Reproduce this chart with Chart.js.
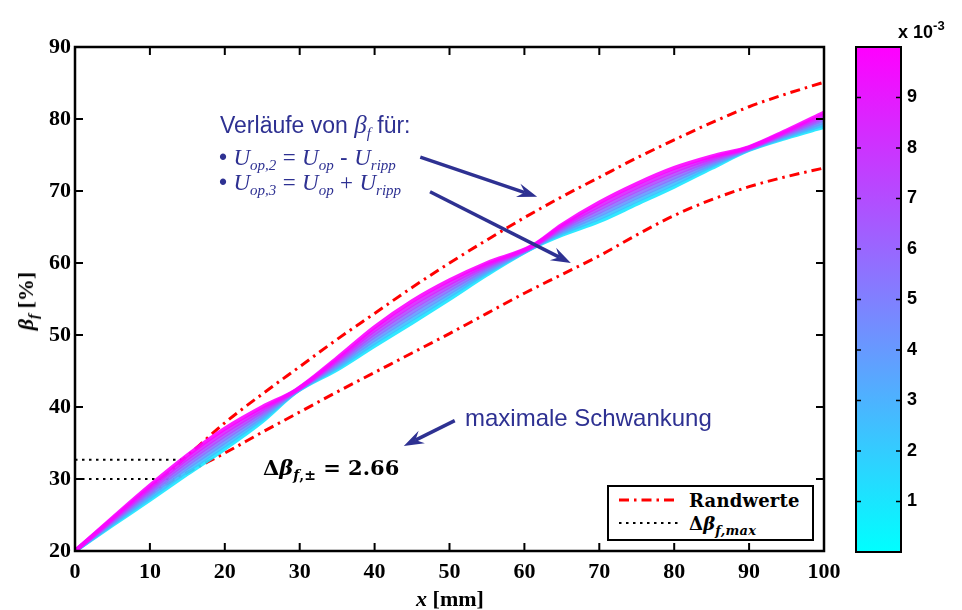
<!DOCTYPE html>
<html>
<head>
<meta charset="utf-8">
<script src="https://cdn.jsdelivr.net/npm/chart.js@4.4.1/dist/chart.umd.min.js"></script>
<style>
  body { margin: 0; background: #fff; }
  #wrap { position: relative; width: 962px; height: 610px; overflow: hidden; }
  canvas { position: absolute; left: 0; top: 0; }
  .note { position: absolute; color: #2e3192; font-family: 'Liberation Sans', Arial, sans-serif; font-size: 23px; line-height: 1; white-space: nowrap; }
  .mi { font-family: 'Liberation Serif', 'Times New Roman', serif; font-style: italic; }
  .up { font-family: 'Liberation Serif', 'Times New Roman', serif; }
  .note sub { font-size: 15px; vertical-align: -5px; line-height: 0; }
  .tex { position: absolute; font-family: 'DejaVu Serif', serif; font-weight: bold; font-size: 21px; line-height: 1; white-space: nowrap; color: #000; }
  .tex sub { font-size: 14px; vertical-align: -5px; line-height: 0; }
  .axtitle { position: absolute; font-family: 'Liberation Serif', 'Times New Roman', serif; font-weight: bold; font-size: 22px; line-height: 1; white-space: nowrap; }
  .axtitle sub { font-size: 15px; vertical-align: -5px; line-height: 0; }
  #legend { position: absolute; left: 607px; top: 485px; width: 203px; height: 52px; border: 2px solid #000; background: #fff; }
  #legend .row { position: absolute; left: 8px; height: 20px; }
  #legend svg { position: absolute; left: 0; top: 0; }
  #legend .tex { font-size: 18px; left: 72px; letter-spacing: 0.2px; }
  #legend .tex sub { font-size: 13px; }
  #cbexp { position: absolute; left: 898px; top: 23px; font-family: 'Liberation Sans', Arial, sans-serif; font-weight: bold; font-size: 18px; line-height: 1; white-space: nowrap; }
  #cbexp sup { font-size: 13px; vertical-align: 8px; line-height: 0; }
</style>
</head>
<body>
<div id="wrap">
  <canvas id="main" width="962" height="610"></canvas>
  <canvas id="cbar" width="962" height="610"></canvas>

  <div class="note" style="left:220px; top:112px;">Verläufe von <span class="mi" style="font-size:25px;">β<sub>f</sub></span> für:</div>
  <div class="note" style="left:219px; top:146px;">• <span class="mi">U<sub>op,2</sub></span> <span class="up">=</span> <span class="mi">U<sub>op</sub></span> - <span class="mi">U<sub>ripp</sub></span></div>
  <div class="note" style="left:219px; top:171px;">• <span class="mi">U<sub>op,3</sub></span> <span class="up">=</span> <span class="mi">U<sub>op</sub></span> <span class="up">+</span> <span class="mi">U<sub>ripp</sub></span></div>
  <div class="note" style="left:465px; top:406px; font-size:24px;">maximale Schwankung</div>

  <div class="tex" style="left:263px; top:457px;">Δ<i>β</i><sub><i>f</i>,±</sub> = 2.66</div>

  <div id="legend">
    <div class="row" style="top:4px;">
      <svg width="62" height="20"><line x1="2" y1="9" x2="62" y2="9" stroke="#ff0000" stroke-width="3" stroke-dasharray="10 5 2.5 5"/></svg>
      <div class="tex" style="top:1px;">Randwerte</div>
    </div>
    <div class="row" style="top:27px;">
      <svg width="62" height="20"><line x1="2" y1="9" x2="62" y2="9" stroke="#000" stroke-width="2" stroke-dasharray="2.5 4.5"/></svg>
      <div class="tex" style="top:1px;">Δ<i>β</i><sub><i>f,max</i></sub></div>
    </div>
  </div>

  <div class="axtitle" style="left:26px; top:301px; transform:translate(-50%,-50%) rotate(-90deg);"><i>β</i><sub><i>f</i></sub> [%]</div>
  <div class="axtitle" style="left:450px; top:599px; transform:translate(-50%,-50%);"><i>x</i> [mm]</div>
  <div id="cbexp">x 10<sup>-3</sup></div>
</div>

<script>
// Axis ticks
const xTicks = [0, 10, 20, 30, 40, 50, 60, 70, 80, 90, 100];
const yTicks = [20, 30, 40, 50, 60, 70, 80, 90];
const cbTicks = [0.001, 0.002, 0.003, 0.004, 0.005, 0.006, 0.007, 0.008, 0.009];
const cbMin = 0, cbMax = 0.01;

// x positions of the simulated curves [mm]
const xBand = [0, 5, 10, 15, 20, 25, 29.5, 35, 40, 45, 50, 55, 61, 65, 70, 75, 80, 85, 90, 95, 100];

// beta_f [%] per ripple level, lowest level first
const beta1 = [20, 23.6, 27.1, 30.7, 34.2, 38.0, 42.05, 45.2, 48.5, 51.7, 55.0, 58.4, 62.05, 63.9, 65.8, 68.2, 70.6, 73.2, 75.7, 77.4, 78.9];
const beta2 = [20, 23.77, 27.43, 31.13, 34.67, 38.33, 42.1, 45.47, 48.93, 52.2, 55.43, 58.67, 62.1, 64.13, 66.23, 68.67, 71.03, 73.47, 75.77, 77.57, 79.23];
const beta3 = [20, 23.93, 27.77, 31.57, 35.13, 38.67, 42.15, 45.73, 49.37, 52.7, 55.87, 58.93, 62.15, 64.37, 66.67, 69.13, 71.47, 73.73, 75.83, 77.73, 79.57];
const beta4 = [20, 24.1, 28.1, 32.0, 35.6, 39.0, 42.2, 46.0, 49.8, 53.2, 56.3, 59.2, 62.2, 64.6, 67.1, 69.6, 71.9, 74.0, 75.9, 77.9, 79.9];
const beta5 = [20, 24.27, 28.43, 32.43, 36.07, 39.33, 42.25, 46.27, 50.23, 53.7, 56.73, 59.47, 62.25, 64.83, 67.53, 70.07, 72.33, 74.27, 75.97, 78.07, 80.23];
const beta6 = [20, 24.43, 28.77, 32.87, 36.53, 39.67, 42.3, 46.53, 50.67, 54.2, 57.17, 59.73, 62.3, 65.07, 67.97, 70.53, 72.77, 74.53, 76.03, 78.23, 80.57];
const beta7 = [20, 24.6, 29.1, 33.3, 37.0, 40.0, 42.35, 46.8, 51.1, 54.7, 57.6, 60.0, 62.35, 65.3, 68.4, 71.0, 73.2, 74.8, 76.1, 78.4, 80.9];
const bandCurves = [beta1, beta2, beta3, beta4, beta5, beta6, beta7];
const bandLevels = [0.001, 0.0025, 0.004, 0.0055, 0.007, 0.0085, 0.0099];

// Randwerte (upper / lower bound)
const xRand = [0, 5, 10, 15, 20, 25, 30, 35, 40, 45, 50, 55, 60, 65, 70, 75, 80, 85, 90, 95, 100];
const randOben = [20, 24.3, 28.6, 33.2, 37.8, 41.8, 45.6, 49.4, 53.0, 56.6, 60.0, 63.2, 66.3, 69.2, 71.9, 74.6, 77.1, 79.5, 81.7, 83.5, 85.1];
const randUnten = [20, 23.9, 27.8, 30.9, 33.6, 36.5, 39.3, 42.1, 44.8, 47.5, 50.2, 53.0, 55.8, 58.4, 61.0, 63.9, 66.6, 68.8, 70.6, 72.0, 73.2];

// Delta beta_f,max markers
const deltaOben = { x: [0, 14.4], y: [32.66, 32.66] };
const deltaUnten = { x: [0, 13.2], y: [30, 30] };

// annotation arrows in data units
const arrows = [
  { from: [46.1, 74.7], to: [61.7, 69.2] },
  { from: [47.4, 69.9], to: [66.2, 60.0] },
  { from: [50.7, 38.1], to: [43.9, 34.6] }
];

const navy = '#2e3192';
const tickFont = { family: "'Liberation Serif', 'Times New Roman', serif", size: 22, weight: 'bold' };

// MATLAB "cool" colormap
function coolColor(v, alpha) {
  const t = (v - cbMin) / (cbMax - cbMin);
  return `rgba(${Math.round(255 * t)}, ${Math.round(255 * (1 - t))}, 255, ${alpha})`;
}

function pts(xs, ys) {
  return xs.map((x, i) => ({ x: x, y: ys[i] }));
}

const datasets = [];
bandCurves.forEach((ys, k) => {
  datasets.push({
    data: pts(xBand, ys),
    borderColor: coolColor(bandLevels[k], 0.9),
    borderWidth: 4,
    pointRadius: 0,
    cubicInterpolationMode: 'monotone',
    order: 17 - k
  });
});
[randOben, randUnten].forEach(ys => {
  datasets.push({
    data: pts(xRand, ys),
    borderColor: '#ff0000',
    borderWidth: 3,
    borderDash: [10, 5, 2.5, 5],
    pointRadius: 0,
    cubicInterpolationMode: 'monotone',
    order: 20
  });
});
[deltaOben, deltaUnten].forEach(d => {
  datasets.push({
    data: pts(d.x, d.y),
    borderColor: '#000',
    borderWidth: 2,
    borderDash: [2.5, 4.5],
    pointRadius: 0,
    order: 20
  });
});

function drawArrow(ctx, x1, y1, x2, y2) {
  const ang = Math.atan2(y2 - y1, x2 - x1);
  const len = 20, half = 7, back = 13;
  ctx.beginPath();
  ctx.moveTo(x1, y1);
  ctx.lineTo(x2 - Math.cos(ang) * back, y2 - Math.sin(ang) * back);
  ctx.stroke();
  ctx.save();
  ctx.translate(x2, y2);
  ctx.rotate(ang);
  ctx.beginPath();
  ctx.moveTo(0, 0);
  ctx.lineTo(-len, -half);
  ctx.lineTo(-back, 0);
  ctx.lineTo(-len, half);
  ctx.closePath();
  ctx.fill();
  ctx.restore();
}

// box with inward ticks on all sides, plus the arrows
const framePlugin = {
  id: 'frame',
  afterDatasetsDraw(chart) {
    const { ctx, chartArea: a, scales: { x, y } } = chart;
    const tl = 8;
    ctx.save();
    ctx.strokeStyle = '#000';
    ctx.lineWidth = 2;
    ctx.beginPath();
    xTicks.forEach(v => {
      const px = x.getPixelForValue(v);
      ctx.moveTo(px, a.bottom); ctx.lineTo(px, a.bottom - tl);
      ctx.moveTo(px, a.top); ctx.lineTo(px, a.top + tl);
    });
    yTicks.forEach(v => {
      const py = y.getPixelForValue(v);
      ctx.moveTo(a.left, py); ctx.lineTo(a.left + tl, py);
      ctx.moveTo(a.right, py); ctx.lineTo(a.right - tl, py);
    });
    ctx.stroke();
    ctx.lineWidth = 2.5;
    ctx.strokeRect(a.left, a.top, a.width, a.height);

    ctx.strokeStyle = navy;
    ctx.fillStyle = navy;
    ctx.lineWidth = 3.5;
    arrows.forEach(ar => {
      drawArrow(ctx,
        x.getPixelForValue(ar.from[0]), y.getPixelForValue(ar.from[1]),
        x.getPixelForValue(ar.to[0]), y.getPixelForValue(ar.to[1]));
    });
    ctx.restore();
  }
};

new Chart(document.getElementById('main'), {
  type: 'line',
  data: { datasets: datasets },
  options: {
    responsive: false,
    animation: false,
    devicePixelRatio: 1,
    layout: { padding: { left: 0, right: 138, top: 47, bottom: 0 } },
    plugins: { legend: { display: false }, tooltip: { enabled: false } },
    scales: {
      x: {
        type: 'linear', min: 0, max: 100,
        afterBuildTicks: s => { s.ticks = xTicks.map(v => ({ value: v })); },
        afterFit: s => { s.height = 59; },
        grid: { display: false, drawTicks: false },
        border: { display: false },
        ticks: { color: '#000', font: tickFont, padding: 8, maxRotation: 0, autoSkip: false }
      },
      y: {
        type: 'linear', min: 20, max: 90,
        afterBuildTicks: s => { s.ticks = yTicks.map(v => ({ value: v })); },
        afterFit: s => { s.width = 75; },
        grid: { display: false, drawTicks: false },
        border: { display: false },
        ticks: { color: '#000', font: tickFont, padding: 4 }
      }
    }
  },
  plugins: [framePlugin]
});

// colour bar: gradient + border + inward ticks on both sides
const colorbarPlugin = {
  id: 'colorbar',
  afterDraw(chart) {
    const { ctx, chartArea: a, scales: { y } } = chart;
    ctx.save();
    const g = ctx.createLinearGradient(0, y.getPixelForValue(cbMin), 0, y.getPixelForValue(cbMax));
    g.addColorStop(0, coolColor(cbMin, 1));
    g.addColorStop(0.5, coolColor((cbMin + cbMax) / 2, 1));
    g.addColorStop(1, coolColor(cbMax, 1));
    ctx.fillStyle = g;
    ctx.fillRect(a.left, a.top, a.width, a.height);
    ctx.strokeStyle = '#000';
    ctx.lineWidth = 1.5;
    ctx.beginPath();
    cbTicks.forEach(v => {
      const py = y.getPixelForValue(v);
      ctx.moveTo(a.left, py); ctx.lineTo(a.left + 5, py);
      ctx.moveTo(a.right, py); ctx.lineTo(a.right - 5, py);
    });
    ctx.stroke();
    ctx.lineWidth = 2;
    ctx.strokeRect(a.left, a.top, a.width, a.height);
    ctx.restore();
  }
};

new Chart(document.getElementById('cbar'), {
  type: 'line',
  data: { datasets: [] },
  options: {
    responsive: false,
    animation: false,
    devicePixelRatio: 1,
    layout: { padding: { left: 856, right: 0, top: 47, bottom: 58 } },
    plugins: { legend: { display: false }, tooltip: { enabled: false } },
    scales: {
      x: { type: 'linear', display: false, min: 0, max: 1 },
      y: {
        type: 'linear', position: 'right', min: cbMin, max: cbMax,
        afterBuildTicks: s => { s.ticks = cbTicks.map(v => ({ value: v })); },
        afterFit: s => { s.width = 61; },
        grid: { display: false, drawTicks: false },
        border: { display: false },
        ticks: {
          color: '#000', padding: 6,
          font: { family: "'Liberation Sans', Arial, sans-serif", size: 18, weight: 'bold' },
          callback: v => String(Math.round(v * 1000))
        }
      }
    }
  },
  plugins: [colorbarPlugin]
});
</script>
</body>
</html>
